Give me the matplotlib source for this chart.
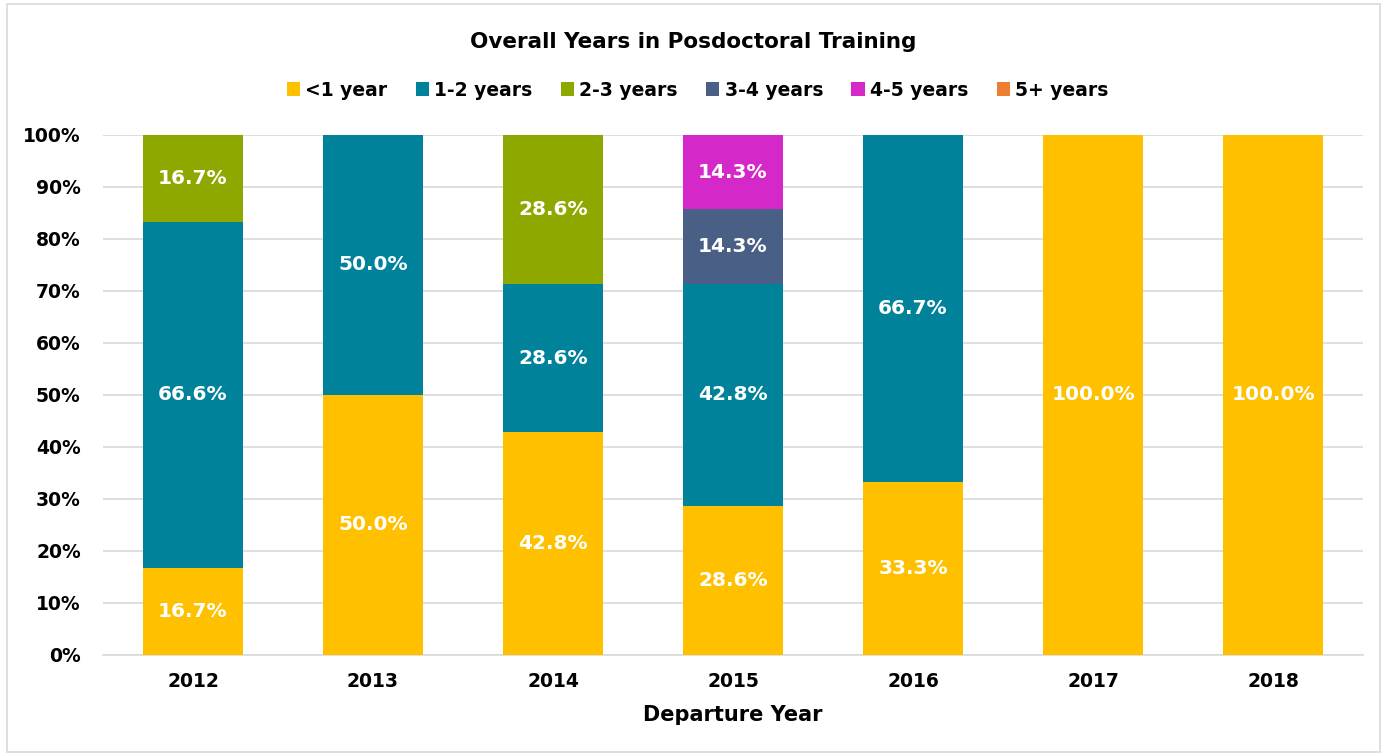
import matplotlib.pyplot as plt
import numpy as np
from matplotlib.patches import Rectangle

years = ['2012', '2013', '2014', '2015', '2016', '2017', '2018']
categories = ['<1 year', '1-2 years', '2-3 years', '3-4 years', '4-5 years', '5+ years']
lt1 = [16.7, 50.0, 42.8, 28.6, 33.3, 100.0, 100.0]
y1_2 = [66.6, 50.0, 28.6, 42.8, 66.7, 0, 0]
y2_3 = [16.7, 0, 28.6, 0, 0, 0, 0]
y3_4 = [0, 0, 0, 14.3, 0, 0, 0]
y4_5 = [0, 0, 0, 14.3, 0, 0, 0]
y5p = [0, 0, 0, 0, 0, 0, 0]
colors = ['#FFC000', '#00829B', '#8FA800', '#4A5F85', '#D528C8', '#ED7D31']

series = [lt1, y1_2, y2_3, y3_4, y4_5, y5p]

plt.rcParams['font.family'] = ['DejaVu Sans']
plt.rcParams['font.weight'] = 'bold'

fig = plt.figure(figsize=(13.87, 7.56), dpi=100)
ax = fig.add_axes([103 / 1387, 1 - 655 / 756, (1363 - 103) / 1387, (655 - 135) / 756])

x = np.arange(len(years))
bottom = np.zeros(len(years))
for name, vals, col in zip(categories, series, colors):
    vals = np.array(vals, dtype=float)
    ax.bar(x, vals, 0.556, bottom=bottom, color=col, label=name, zorder=3)
    for xi, v, b in zip(x, vals, bottom):
        if v > 0:
            ax.text(xi, b + v / 2, f'{v:.1f}%', ha='center', va='center',
                    color='white', fontsize=14.5, fontweight='bold', zorder=4)
    bottom += vals

ax.set_xlim(-0.5, len(years) - 0.5)
ax.set_ylim(0, 100)
ax.set_yticks(np.arange(0, 101, 10))
ax.set_yticklabels([f'{t}%' for t in range(0, 101, 10)])
ax.set_xticks(x)
ax.set_xticklabels(years)
ax.tick_params(axis='both', length=0, labelsize=13.5)
ax.tick_params(axis='x', pad=12)
ax.tick_params(axis='y', pad=16)
ax.grid(axis='y', color='#D9D9D9', linewidth=1.2, zorder=0)
for s in ['top', 'right', 'left']:
    ax.spines[s].set_visible(False)
ax.spines['bottom'].set_color('#D9D9D9')
ax.spines['bottom'].set_linewidth(1.2)

ax.set_xlabel('Departure Year', fontsize=15, fontweight='bold', labelpad=10)

fig.text(0.5, 1 - 42 / 756, 'Overall Years in Posdoctoral Training', ha='center', va='center',
         fontsize=15.5, fontweight='bold')
fig.legend(loc='center', bbox_to_anchor=(0.503, 1 - 90 / 756), ncol=6, frameon=False,
           fontsize=13.5, handlelength=0.7, handleheight=0.7, handletextpad=0.3, columnspacing=1.5)

fig.patches.append(Rectangle((7 / 1387, 4 / 756), 1 - 14 / 1387, 1 - 8 / 756,
                             transform=fig.transFigure, fill=False, edgecolor='#D9D9D9', linewidth=1.2))

fig.savefig('out.png', dpi=100)
